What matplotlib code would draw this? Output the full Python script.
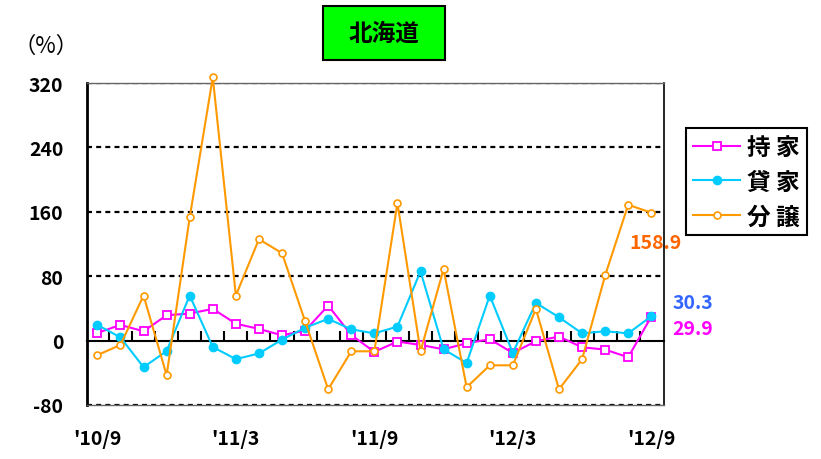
import matplotlib
matplotlib.use("Agg")
import matplotlib.pyplot as plt
from matplotlib.patches import Rectangle

plt.rcParams['font.family'] = ['Noto Sans CJK JP', 'DejaVu Sans']
plt.rcParams['font.weight'] = 'bold'
plt.rcParams['lines.scale_dashes'] = False

# ---- data ----
months = list(range(25))  # '10/9 .. '12/9
tick_pos = [0, 6, 12, 18, 24]
tick_labels = ["'10/9", "'11/3", "'11/9", "'12/3", "'12/9"]
yticks = [-80, 0, 80, 160, 240, 320]

mochiie = [9.5, 19.5, 11.6, 31.5, 33.6, 39.4, 21, 14.5, 6.6, 12.4, 43.5, 7, -14,
           -1.2, -5.4, -10.8, -3.3, 1.7, -15.3, -0.8, 5, -8.3, -11.2, -20.7, 29.9]
kashiya = [19.5, 4, -33, -13, 56, -8, -23, -16, 1.2, 16, 27, 14, 9,
           17.4, 86, -10.8, -27.8, 56, -15.3, 46.8, 29, 9, 11.6, 9, 30.3]
bunjo = [-18, -5.4, 56, -43, 153, 327, 56, 126, 108.6, 24, -60.5, -13.3, -13.3,
         170.8, -13.3, 88.7, -58, -30.7, -30.7, 39.4, -60.5, -23.2, 81, 168.7, 158.9]

labels = ['持 家', '貸 家', '分 譲']
colors = ['#FF00FF', '#00CCFF', '#FF9900']

fig = plt.figure(figsize=(8.21, 4.60), dpi=100)
ax = fig.add_axes([87/821, 1-406/460, (664-87)/821, (406-84)/460])

ax.set_xlim(-0.45, 24.55)
ax.set_ylim(-80, 320)

for y in yticks:
    if y != 0:
        ax.axhline(y, color='black', lw=1.6, ls=(0, (3.6, 3.0)), zorder=1)

l1, = ax.plot(months, mochiie, color=colors[0], lw=1.5, marker='s', ms=5.5,
              mfc='white', mec=colors[0], mew=1.3, zorder=3, clip_on=False)
l2, = ax.plot(months, kashiya, color=colors[1], lw=1.5, marker='o', ms=6,
              mfc=colors[1], mec=colors[1], zorder=4, clip_on=False)
l3, = ax.plot(months, bunjo, color=colors[2], lw=1.5, marker='o', ms=5,
              mfc='white', mec=colors[2], mew=1.2, zorder=5, clip_on=False)

ax.set_yticks(yticks)
ax.set_yticklabels([str(v) for v in yticks], fontsize=14, fontweight='bold')
ax.tick_params(axis='y', length=0, pad=17)
ax.set_xticks(tick_pos)
ax.set_xticklabels(tick_labels, fontsize=14, fontweight='bold')
ax.tick_params(axis='x', length=0, pad=17)

ax.spines['left'].set_linewidth(2.0)
ax.spines['right'].set_linewidth(1.2)
ax.spines['top'].set_color('#666666')
ax.spines['bottom'].set_color('#666666')
ax.spines['top'].set_linewidth(1.0)
ax.spines['bottom'].set_linewidth(1.0)

# zero axis with category boundary ticks
sec = ax.secondary_xaxis(80/400)
sec.spines['bottom'].set_linewidth(1.5)
sec.set_xticks([i + 0.5 for i in range(24)])
sec.set_xticklabels([])
sec.tick_params(direction='in', length=7, width=1.5)

# end value labels
ax.text(23.05, 122, f"{bunjo[-1]:.1f}", color='#FF6600', fontsize=14,
        fontweight='bold', ha='left', va='center', clip_on=False)
ax.text(24.92, 47.5, f"{kashiya[-1]:.1f}", color='#3366FF', fontsize=14,
        fontweight='bold', ha='left', va='center', clip_on=False)
ax.text(24.92, 15, f"{mochiie[-1]:.1f}", color='#FF00FF', fontsize=14,
        fontweight='bold', ha='left', va='center', clip_on=False)

# legend
leg = fig.legend([l1, l2, l3], labels, loc='upper left',
                 bbox_to_anchor=(686/821, 1-129/460), fancybox=False,
                 edgecolor='black', framealpha=1, prop={'size': 17, 'weight': 'bold'},
                 handlelength=2.0, handletextpad=0.3, labelspacing=0.45,
                 borderpad=0.3, borderaxespad=0)
leg.get_frame().set_linewidth(1.5)

# title box
fig.patches.append(Rectangle((323/821, 1-61/460), 122/821, 54/460,
                             transform=fig.transFigure, facecolor='#00FF00',
                             edgecolor='black', lw=1.5))
fig.text(384/821, 1-34/460, '北海道', fontsize=17, fontweight='bold',
         ha='center', va='center')

fig.text(46/821, 1-46/460, '（%）', fontsize=16, ha='center', va='center',
         fontweight='normal')

fig.savefig('out.png', dpi=100)
